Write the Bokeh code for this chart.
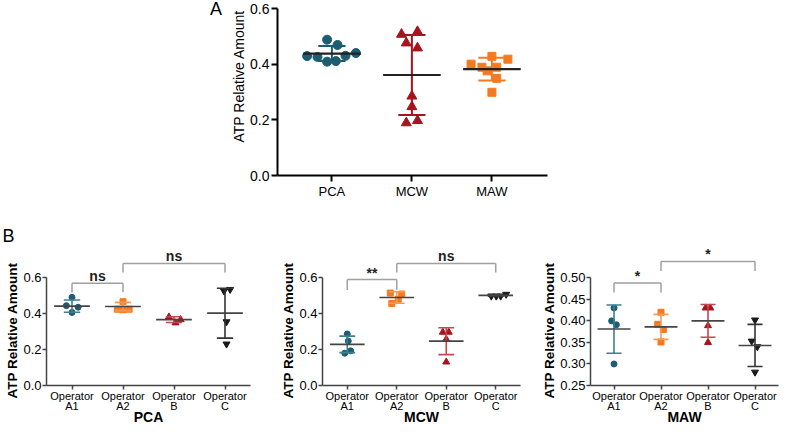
from math import pi
from bokeh.plotting import figure
from bokeh.layouts import column, row
from bokeh.models import Range1d, FixedTicker, NumeralTickFormatter, Title, Div
from bokeh.core.properties import value
from bokeh.embed import file_html
from bokeh.resources import INLINE

FONT = "Liberation Sans"
TEAL = "#1c5d72"
RED = "#a8131d"
ORANGE = "#f47a20"
BLACK = "#1a1a1a"

# ---------------- Panel A data ----------------
a_categories = ["PCA", "MCW", "MAW"]
a_pca_values = [0.488, 0.469, 0.429, 0.426, 0.430, 0.440, 0.409, 0.411]
a_pca_offsets = [-0.06, 0.07, -0.31, -0.18, 0.17, 0.30, -0.06, 0.05]
a_mcw_values = [0.507, 0.517, 0.476, 0.458, 0.285, 0.247, 0.189, 0.197]
a_mcw_offsets = [-0.13, 0.07, -0.07, 0.07, 0.0, 0.0, -0.07, 0.07]
a_maw_values = [0.428, 0.418, 0.400, 0.389, 0.389, 0.376, 0.349, 0.299]
a_maw_offsets = [0.0, 0.2, -0.26, -0.125, 0.06, -0.06, 0.06, 0.0]
a_means = [0.438, 0.361, 0.382]
a_sds = [0.027, 0.144, 0.041]
a_yticks = [0.0, 0.2, 0.4, 0.6]

# ---------------- Panel B data ----------------
b_operators = ["Operator\nA1", "Operator\nA2", "Operator\nB", "Operator\nC"]

b_pca_values = [[0.491, 0.445, 0.436, 0.407], [0.467, 0.425, 0.422, 0.425],
                [0.382, 0.349, 0.367], [0.527, 0.535, 0.355, 0.231]]
b_pca_offsets = [[0, -0.11, 0.12, 0], [0, -0.11, 0, 0.12],
                 [-0.1, 0.03, 0.13], [-0.02, 0.1, 0.03, 0.03]]
b_pca_means = [0.442, 0.440, 0.367, 0.403]
b_pca_sds = [0.034, 0.023, 0.016, 0.139]
b_pca_brackets = [(0, 1, 0.57, 0.52, "ns"), (1, 3, 0.68, 0.63, "ns")]

b_mcw_values = [[0.287, 0.248, 0.180, 0.193], [0.515, 0.510, 0.480, 0.457],
                [0.297, 0.297, 0.258, 0.131], [0.498, 0.498, 0.498, 0.508]]
b_mcw_offsets = [[0, 0.02, -0.05, 0.07], [-0.13, 0.1, 0.03, -0.1],
                 [-0.07, 0.05, 0, 0], [-0.09, 0.01, 0.1, 0.21]]
b_mcw_means = [0.229, 0.490, 0.247, 0.502]
b_mcw_sds = [0.046, 0.032, 0.075, 0.005]
b_mcw_brackets = [(0, 1, 0.59, 0.532, "**"), (1, 3, 0.68, 0.63, "ns")]

b_maw_values = [[0.430, 0.400, 0.391, 0.300], [0.420, 0.392, 0.380, 0.351],
                [0.430, 0.430, 0.389, 0.350], [0.402, 0.353, 0.340, 0.281]]
b_maw_offsets = [[0, -0.05, 0.05, 0], [0, -0.07, 0.05, 0],
                 [-0.05, 0.05, 0, 0], [0, -0.07, 0.05, 0]]
b_maw_means = [0.381, 0.386, 0.400, 0.343]
b_maw_sds = [0.056, 0.029, 0.038, 0.049]
b_maw_brackets = [(0, 1, 0.488, 0.466, "*"), (1, 3, 0.538, 0.516, "*")]

b_markers = ["circle", "square", "triangle", "inverted_triangle"]
b_sizes = [6, 6, 7, 7]
b_point_colors = [TEAL, ORANGE, RED, BLACK]
b_bar_colors = ["#3e7f90", "#f59a55", "#bf4a4f", "#333333"]

YLAB = "ATP Relative Amount"


def base_style(p):
    p.outline_line_color = None
    p.grid.visible = False
    p.background_fill_color = "white"
    p.border_fill_color = "white"
    for ax in (p.xaxis, p.yaxis):
        ax.minor_tick_line_color = None
        ax.major_tick_in = 0
        ax.major_label_text_font = FONT
        ax.axis_label_text_font = FONT
        ax.major_label_text_color = "black"
        ax.axis_label_text_color = "black"


def side_fig(width, height, items):
    """Narrow text-only strip holding a rotated y-axis title."""
    f = figure(width=width, height=height, x_range=Range1d(0, width),
               y_range=Range1d(0, height), x_axis_type=None, y_axis_type=None,
               output_backend="svg", toolbar_location=None, min_border=0, title=None)
    f.outline_line_color = None
    f.background_fill_color = "white"
    f.border_fill_color = "white"
    for x, y, txt, size, style, angle in items:
        f.text(x=[x], y=[y], text=[txt], angle=angle, text_align="center",
               text_baseline="middle", text_font=value(FONT), text_font_size=size,
               text_font_style=style, text_color="black")
    return f


# ---------------- Panel A ----------------
pA = figure(width=316, height=205, x_range=Range1d(-0.68, 2.695), y_range=Range1d(0, 0.6),
            output_backend="svg", toolbar_location=None, title=None,
            min_border_left=31, min_border_right=15, min_border_top=8, min_border_bottom=30)
base_style(pA)

a_sets = [(a_pca_values, a_pca_offsets, "circle", 9),
          (a_mcw_values, a_mcw_offsets, "triangle", 10),
          (a_maw_values, a_maw_offsets, "square", 8)]
a_colors = [TEAL, RED, ORANGE]
for i, (vals, offs, mk, sz) in enumerate(a_sets):
    pA.scatter([i + o for o in offs], vals, marker=mk, size=sz, color=a_colors[i])

a_centers = list(range(len(a_categories)))
a_lo = [m - s for m, s in zip(a_means, a_sds)]
a_hi = [m + s for m, s in zip(a_means, a_sds)]
pA.segment(a_centers, a_lo, a_centers, a_hi, line_color=a_colors, line_width=2)
pA.segment([c - 0.17 for c in a_centers] * 2, a_lo + a_hi, [c + 0.17 for c in a_centers] * 2,
           a_lo + a_hi, line_color=a_colors * 2, line_width=2)
pA.segment([c - 0.36 for c in a_centers], a_means, [c + 0.36 for c in a_centers], a_means,
           line_color="#222222", line_width=2.2)

pA.xaxis.ticker = FixedTicker(ticks=a_centers)
pA.xaxis.major_label_overrides = {c: n for c, n in zip(a_centers, a_categories)}
pA.yaxis.ticker = FixedTicker(ticks=a_yticks)
pA.yaxis.formatter = NumeralTickFormatter(format="0.0")
for ax in (pA.xaxis, pA.yaxis):
    ax.axis_line_width = 2
    ax.major_tick_line_width = 2
    ax.major_tick_out = 6
    ax.axis_line_color = "black"
    ax.major_tick_line_color = "black"
    ax.major_label_text_font_size = "14px"
    ax.major_label_standoff = 2
pA.xaxis.major_label_text_font_size = "13px"

letterA = Div(text="A", width=222, height=205, margin=0,
              styles={"text-align": "right", "font-size": "18px", "font-family": FONT,
                      "line-height": "18px", "color": "black"})
sideA = side_fig(24, 205, [(16, 122, YLAB, "14px", "normal", pi / 2)])


# ---------------- Panel B ----------------
def panel_b(values, offsets, means, sds, brackets, yr, ybounds, yticks, fmt, xlabel,
            width, mbl, mbr, letter=None):
    p = figure(width=width, height=223, x_range=Range1d(-0.5, 3.5), y_range=Range1d(*yr),
               output_backend="svg", toolbar_location=None, title=None,
               min_border_left=mbl, min_border_right=mbr, min_border_top=40,
               min_border_bottom=40)
    base_style(p)
    for i, (vals, offs) in enumerate(zip(values, offsets)):
        p.scatter([i + o for o in offs], vals, marker=b_markers[i], size=b_sizes[i],
                  color=b_point_colors[i])
    centers = list(range(len(b_operators)))
    lo = [m - s for m, s in zip(means, sds)]
    hi = [m + s for m, s in zip(means, sds)]
    p.segment(centers, lo, centers, hi, line_color=b_bar_colors, line_width=1.6)
    p.segment([c - 0.16 for c in centers] * 2, lo + hi, [c + 0.16 for c in centers] * 2,
              lo + hi, line_color=b_bar_colors * 2, line_width=1.6)
    p.segment([c - 0.35 for c in centers], means, [c + 0.35 for c in centers], means,
              line_color="#444444", line_width=1.6)

    x0, y0, x1, y1, lx, ly, lt = [], [], [], [], [], [], []
    for a, b, top, drop, txt in brackets:
        x0 += [a, a, b]
        y0 += [drop, top, top]
        x1 += [a, b, b]
        y1 += [top, top, drop]
        lx.append((a + b) / 2)
        ly.append(top)
        lt.append(txt)
    p.segment(x0, y0, x1, y1, line_color="#a0a0a0", line_width=1.5)
    p.text(x=lx, y=ly, text=lt, text_align="center", text_baseline="bottom", y_offset=1,
           text_font=value(FONT), text_font_style="bold", text_font_size="14px",
           text_color="#222222")

    p.xaxis.ticker = FixedTicker(ticks=centers)
    p.xaxis.major_label_overrides = {c: n for c, n in zip(centers, b_operators)}
    p.xaxis.major_label_text_font_size = "11px"
    p.xaxis.major_label_text_line_height = 0.9
    p.xaxis.axis_label = xlabel
    p.xaxis.axis_label_text_font_style = "bold"
    p.xaxis.axis_label_text_font_size = "14px"
    p.xaxis.axis_label_text_line_height = 0.9
    p.xaxis.axis_label_standoff = -6
    p.xaxis.major_label_standoff = 0
    p.yaxis.ticker = FixedTicker(ticks=yticks)
    p.yaxis.formatter = NumeralTickFormatter(format=fmt)
    p.yaxis.bounds = ybounds
    p.yaxis.major_label_text_font_size = "13px"
    p.yaxis.major_label_standoff = 1
    for ax in (p.xaxis, p.yaxis):
        ax.axis_line_width = 1.5
        ax.major_tick_line_width = 1.5
        ax.axis_line_color = "#444444"
        ax.major_tick_line_color = "#444444"
        ax.major_tick_out = 4
    p.add_layout(Title(text=YLAB, align="left", offset=-13, standoff=2, text_font=FONT,
                       text_font_size="13.5px", text_font_style="bold",
                       text_color="black"), "left")
    if letter:
        p.add_layout(Title(text=letter, align="left", offset=-44, standoff=0,
                           text_font=FONT, text_font_size="18px",
                           text_font_style="normal", text_color="black"), "above")
    return p


pB1 = panel_b(b_pca_values, b_pca_offsets, b_pca_means, b_pca_sds, b_pca_brackets,
              (0, 0.78), (0, 0.6), [0.0, 0.2, 0.4, 0.6], "0.0", "PCA", 276, 46, 26,
              letter="B")
pB2 = panel_b(b_mcw_values, b_mcw_offsets, b_mcw_means, b_mcw_sds, b_mcw_brackets,
              (0, 0.78), (0, 0.6), [0.0, 0.2, 0.4, 0.6], "0.0", "MCW", 262, 46, 18)
pB3 = panel_b(b_maw_values, b_maw_offsets, b_maw_means, b_maw_sds, b_maw_brackets,
              (0.25, 0.575), (0.25, 0.5), [0.25, 0.30, 0.35, 0.40, 0.45, 0.50], "0.00",
              "MAW", 246, 50, 6)

layout = column(row(letterA, sideA, pA),
                row(pB1, pB2, pB3))

with open("out.html", "w") as f:
    f.write(file_html(layout, INLINE))
